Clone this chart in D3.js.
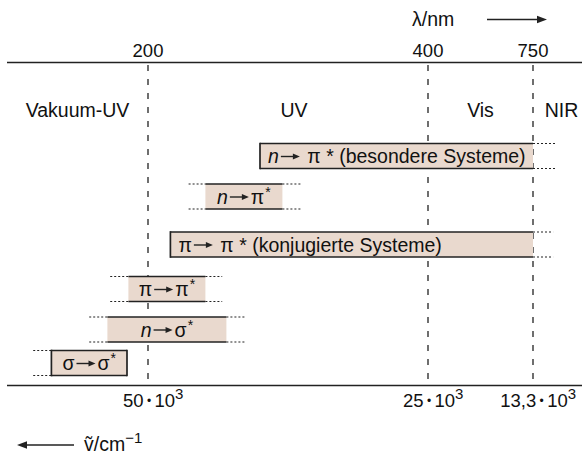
<!DOCTYPE html>
<html>
<head>
<meta charset="utf-8">
<script src="https://cdn.jsdelivr.net/npm/d3@7/dist/d3.min.js"></script>
<style>
  html, body { margin: 0; padding: 0; background: #fff; }
  svg { display: block; font-family: "Liberation Sans", Arial, Helvetica, sans-serif; }
</style>
</head>
<body>
<svg id="chart" width="582" height="455"></svg>
<script>
// Wavelength boundaries (nm) and the matching wavenumbers (10^3 cm^-1)
const wavelengthTicks = [200, 400, 750];
const wavenumberLabels = ["50", "25", "13,3"];
const regionNames = ["Vakuum-UV", "UV", "Vis", "NIR"];

// Electronic transitions: donor orbital, acceptor orbital, remark
const fromOrbital = ["n", "n", "π", "π", "n", "σ"];
const toOrbital   = ["π", "π", "π", "π", "σ", "σ"];
const remarks     = ["(besondere Systeme)", "", "(konjugierte Systeme)", "", "", ""];
// Typical absorption range (nm) and its fading extension (nm)
const bandStart = [280, 241, 216, 186, 171, 131];
const bandEnd   = [750, 296, 750, 241, 256, 185];
const tailStart = [280, 229, 216, 173, 158, 118];
const tailEnd   = [830, 309, 817, 253, 269, 185];

const W = 582, H = 455;
const axisTop = 62.5, axisBottom = 385.5;
const FS = 19.5;          // main text size
const svg = d3.select("#chart");

// Schematic (piecewise linear) wavelength axis
const x = d3.scaleLinear().domain(wavelengthTicks).range([148, 428, 533]);
const rows = d3.range(fromOrbital.length);
const rowY = d3.scaleOrdinal().domain(rows).range([156, 196.5, 244.5, 289, 329.5, 363]);
const barH = 25;

const ink = "#222";

// horizontal axis lines
[axisTop, axisBottom].forEach(yy => {
  svg.append("line").attr("x1", 7).attr("x2", W).attr("y1", yy).attr("y2", yy)
    .attr("stroke", ink).attr("stroke-width", 1.5);
});

// dashed region boundaries
svg.append("g").selectAll("line").data(wavelengthTicks).join("line")
  .attr("x1", d => x(d)).attr("x2", d => x(d))
  .attr("y1", axisTop + 2.5).attr("y2", axisBottom)
  .attr("stroke", ink).attr("stroke-width", 1.3)
  .attr("stroke-dasharray", "6,8");

// wavelength tick labels
svg.append("g").selectAll("text").data(wavelengthTicks).join("text")
  .attr("x", d => x(d)).attr("y", 57)
  .attr("text-anchor", "middle").attr("font-size", 18.5).attr("fill", "#111")
  .text(d => d);

// region names centred between boundaries
const edges = [7, ...wavelengthTicks.map(x), W];
regionNames.forEach((name, i) => {
  let cx = (edges[i] + edges[i + 1]) / 2;
  if (i === 1) cx += 6;
  if (i === regionNames.length - 1) cx += 4;
  svg.append("text").attr("x", cx).attr("y", 117)
    .attr("text-anchor", "middle").attr("font-size", FS).attr("fill", "#111")
    .text(name);
});

// wavenumber tick labels, centred on the mantissa part
wavenumberLabels.forEach((lab, i) => {
  const t = svg.append("text").attr("y", 407).attr("font-size", 18.5).attr("fill", "#111");
  t.append("tspan").text(lab);
  t.append("tspan").attr("font-size", 12).attr("dy", -2).text(" • ");
  t.append("tspan").attr("dy", 2).text("10");
  const mainW = t.node().getComputedTextLength();
  t.append("tspan").attr("font-size", 15).attr("dy", -8).text("3");
  t.attr("x", x(wavelengthTicks[i]) - mainW / 2 + 1);
});

// arrow helper
function arrow(g, x0, x1, y, headLen, headHalf, width) {
  const dir = Math.sign(x1 - x0);
  g.append("line").attr("x1", x0).attr("x2", x1 - dir * headLen * 0.8)
    .attr("y1", y).attr("y2", y).attr("stroke", ink).attr("stroke-width", width);
  g.append("path")
    .attr("d", `M${x1},${y} L${x1 - dir * headLen},${y - headHalf} L${x1 - dir * headLen},${y + headHalf} Z`)
    .attr("fill", ink);
}

// axis titles
svg.append("text").attr("x", 412).attr("y", 26).attr("font-size", FS).attr("fill", "#111")
  .text("λ/nm");
arrow(svg, 487, 547, 19.5, 10, 3.7, 1.5);

arrow(svg, 74, 17, 445, 10, 3.7, 1.5);
const nu = svg.append("text").attr("x", 84).attr("y", 451).attr("font-size", FS).attr("fill", "#111");
nu.append("tspan").text("ṽ/cm");
nu.append("tspan").attr("font-size", 15).attr("dy", -8).text("−1");

// transition bars
const fill = "#e9d9ce";
const outline = ["left", "none", "left", "none", "none", "both"];
const barLayer = svg.append("g");

rows.forEach(i => {
  const yc = rowY(i), y0 = yc - barH / 2, y1 = yc + barH / 2;
  const xa = x(bandStart[i]), xb = x(bandEnd[i]);
  const g = barLayer.append("g");

  g.append("rect").attr("x", xa).attr("y", y0).attr("width", xb - xa).attr("height", barH)
    .attr("fill", fill);

  // dotted extensions
  const dots = [];
  if (x(tailStart[i]) < xa - 0.5) dots.push([x(tailStart[i]), xa]);
  if (x(tailEnd[i]) > xb + 0.5) dots.push([xb, x(tailEnd[i])]);
  dots.forEach(([u, v]) => {
    [y0, y1].forEach(yy => {
      g.append("line").attr("x1", u).attr("x2", v).attr("y1", yy).attr("y2", yy)
        .attr("stroke", ink).attr("stroke-width", 1.1).attr("stroke-dasharray", "2,2");
    });
  });

  // solid edges
  [y0, y1].forEach(yy => {
    g.append("line").attr("x1", xa).attr("x2", xb).attr("y1", yy).attr("y2", yy)
      .attr("stroke", ink).attr("stroke-width", 1.7);
  });
  const sides = outline[i] === "both" ? [xa, xb] : outline[i] === "left" ? [xa] : [];
  sides.forEach(xx => {
    g.append("line").attr("x1", xx).attr("x2", xx).attr("y1", y0 - 0.85).attr("y2", y1 + 0.85)
      .attr("stroke", ink).attr("stroke-width", 1.7);
  });

  // label: donor -> acceptor*
  const base = yc + 7;
  const lg = g.append("g");
  let cx = 0;
  const put = (txt, opts = {}) => {
    const t = lg.append("text").attr("x", cx).attr("y", base + (opts.dy || 0))
      .attr("font-size", opts.size || FS).attr("fill", "#111")
      .attr("font-style", opts.italic ? "italic" : null)
      .attr("xml:space", "preserve").style("white-space", "pre")
      .text(txt);
    cx += t.node().getComputedTextLength();
  };
  put(fromOrbital[i], { italic: fromOrbital[i] === "n" });
  cx += 2;
  arrow(lg, cx, cx + 19, base - 6.5, 7, 3, 1.4);
  cx += 21;
  if (remarks[i]) {
    put(" " + toOrbital[i] + " * " + remarks[i]);
    lg.attr("transform", `translate(${xa + 8},0)`);
  } else {
    put(toOrbital[i]);
    cx += 1;
    put("*", { size: 14, dy: -7 });
    lg.attr("transform", `translate(${(xa + xb) / 2 - cx / 2},0)`);
  }
});
</script>
</body>
</html>
